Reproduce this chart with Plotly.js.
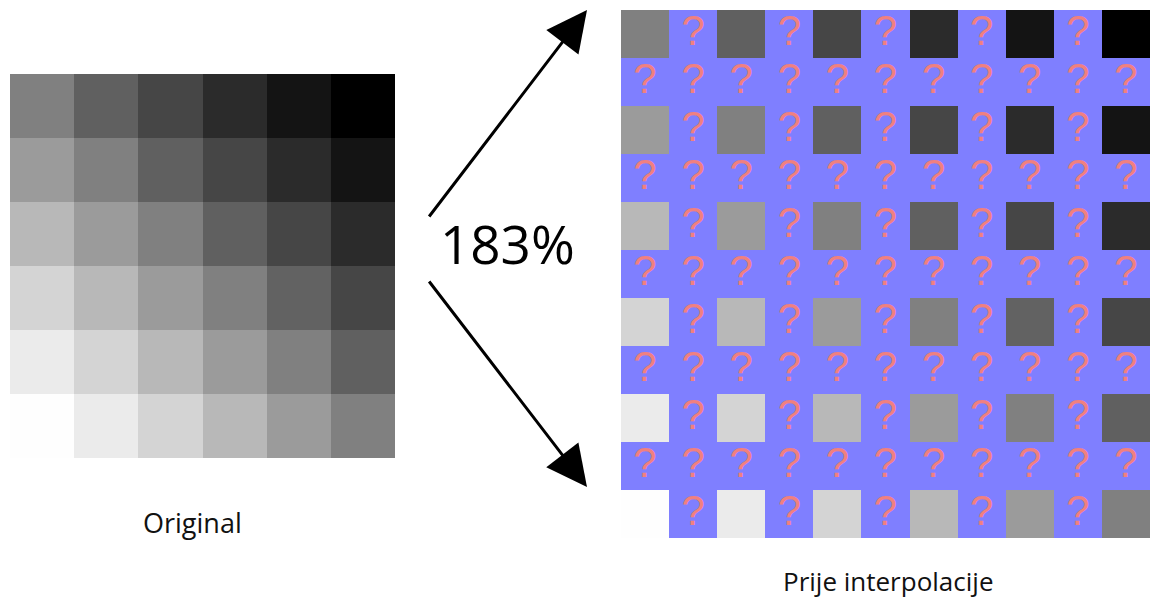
<!DOCTYPE html>
<html>
<head>
<meta charset="utf-8">
<script src="https://cdn.plot.ly/plotly-3.0.1.min.js"></script>
<style>html,body{margin:0;padding:0;background:#fff;}#chart{width:1150px;height:600px;}</style>
</head>
<body>
<div id="chart"></div>
<script>
// Original 6x6 image, gray levels (0 = black, 255 = white), rows from top to bottom
const row1 = [128, 96, 70, 43, 20, 0];
const row2 = [155, 128, 96, 70, 43, 20];
const row3 = [184, 155, 128, 96, 70, 43];
const row4 = [212, 184, 155, 128, 98, 70];
const row5 = [235, 212, 184, 155, 128, 96];
const row6 = [254, 235, 212, 184, 155, 128];
const originalRows = [row1, row2, row3, row4, row5, row6];

const scaleLabel = '183%';
const leftLabel = 'Original';
const rightLabel = 'Prije interpolacije';
const unknownMark = '?';

// Before interpolation: original pixels placed on every other cell of an 11x11 grid
const N = 2 * originalRows.length - 1;
const upZ = [];
const qx = [], qy = [], qt = [];
for (let r = 0; r < N; r++) {
  const line = [];
  for (let c = 0; c < N; c++) {
    if (r % 2 === 0 && c % 2 === 0) {
      line.push(originalRows[r / 2][c / 2]);
    } else {
      line.push(null);
      qx.push(c); qy.push(r); qt.push(unknownMark);
    }
  }
  upZ.push(line);
}

const grayScale = [[0, 'rgb(0,0,0)'], [1, 'rgb(255,255,255)']];
const W = 1150, H = 600;

const traces = [
  {
    type: 'heatmap', z: originalRows, xaxis: 'x', yaxis: 'y',
    colorscale: grayScale, zmin: 0, zmax: 255, showscale: false, hoverinfo: 'skip'
  },
  {
    type: 'heatmap', z: upZ, xaxis: 'x2', yaxis: 'y2',
    colorscale: grayScale, zmin: 0, zmax: 255, showscale: false, hoverinfo: 'skip'
  },
  {
    type: 'scatter', mode: 'text', x: qx, y: qy, text: qt, xaxis: 'x2', yaxis: 'y2',
    textposition: 'middle center', cliponaxis: false,
    textfont: {family: 'Liberation Sans', size: 42, color: 'rgb(240,128,128)'},
    hoverinfo: 'skip', showlegend: false
  }
];

const hidden = {visible: false, showgrid: false, zeroline: false, fixedrange: true};

const layout = {
  width: W, height: H,
  margin: {l: 0, r: 0, t: 0, b: 0, pad: 0},
  paper_bgcolor: '#ffffff', plot_bgcolor: 'rgba(0,0,0,0)',
  showlegend: false,
  xaxis: Object.assign({}, hidden, {domain: [10 / W, 395 / W], range: [-0.5, 5.5]}),
  yaxis: Object.assign({}, hidden, {domain: [1 - 458 / H, 1 - 74 / H], range: [5.5, -0.5]}),
  xaxis2: Object.assign({}, hidden, {domain: [621 / W, 1], range: [-0.5, 10.5], anchor: 'y2'}),
  yaxis2: Object.assign({}, hidden, {domain: [1 - 538 / H, 1 - 10 / H], range: [10.5, -0.5], anchor: 'x2'}),
  shapes: [
    {type: 'rect', xref: 'x2 domain', yref: 'y2 domain', x0: 0, x1: 1, y0: 0, y1: 1,
     fillcolor: 'rgb(127,127,255)', line: {width: 0}, layer: 'below'}
  ],
  annotations: [
    {xref: 'paper', yref: 'paper', x: 587 / W, y: 1 - 10 / H, axref: 'pixel', ayref: 'pixel',
     ax: -159, ay: 208, showarrow: true, arrowhead: 2, arrowsize: 2.7, arrowwidth: 3,
     arrowcolor: '#000', text: ''},
    {xref: 'paper', yref: 'paper', x: 587 / W, y: 1 - 487 / H, axref: 'pixel', ayref: 'pixel',
     ax: -159, ay: -207, showarrow: true, arrowhead: 2, arrowsize: 2.7, arrowwidth: 3,
     arrowcolor: '#000', text: ''},
    {xref: 'paper', yref: 'paper', x: 507 / W, y: 1 - 243 / H, xanchor: 'center', yanchor: 'middle',
     showarrow: false, text: scaleLabel, font: {family: 'Open Sans', size: 53, color: '#000'}},
    {xref: 'paper', yref: 'paper', x: 192 / W, y: 1 - 522 / H, xanchor: 'center', yanchor: 'middle',
     showarrow: false, text: leftLabel, font: {family: 'Open Sans', size: 27, color: '#111'}},
    {xref: 'paper', yref: 'paper', x: 888 / W, y: 1 - 581 / H, xanchor: 'center', yanchor: 'middle',
     showarrow: false, text: rightLabel, font: {family: 'Open Sans', size: 26, color: '#111'}}
  ]
};

Plotly.newPlot('chart', traces, layout, {staticPlot: true, displayModeBar: false});
</script>
</body>
</html>
